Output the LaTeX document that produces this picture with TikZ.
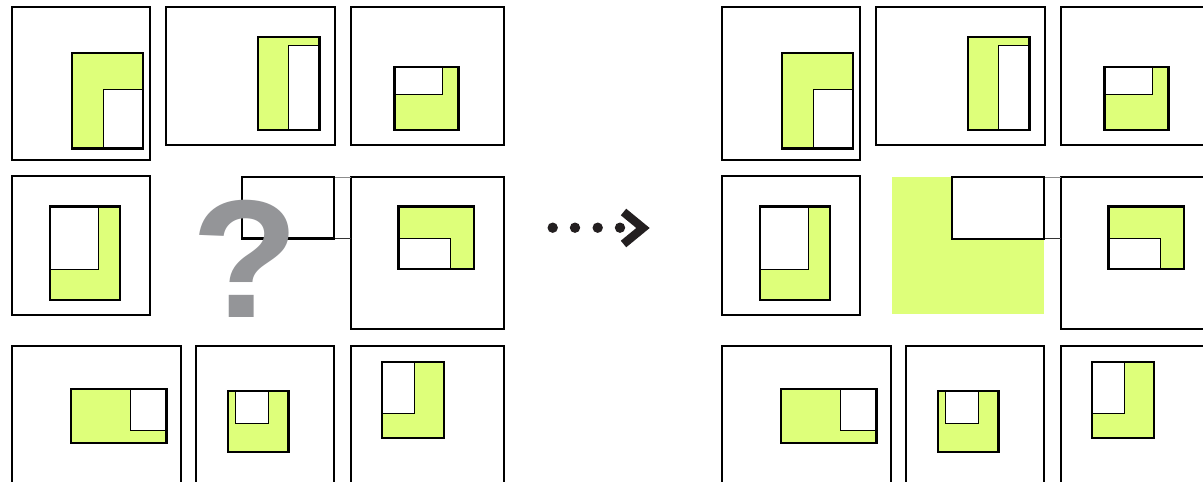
\documentclass[tikz,border=0pt]{standalone}
\usepackage{fontspec}
\newfontfamily\qfont{Liberation Sans}
\definecolor{lgreen}{RGB}{222,255,122}
\definecolor{qgray}{RGB}{148,149,152}
\definecolor{arrowblk}{RGB}{35,31,32}
\tikzset{
  outerbox/.style={draw=black, line width=2pt},
  innerfill/.style={fill=lgreen},
  innerbox/.style={draw=black, line width=2.5pt},
  holebox/.style={draw=black, line width=0.9pt, fill=white},
  thinlink/.style={draw=black!80, line width=0.9pt},
  dotmark/.style={fill=arrowblk},
}
% cell: outer x1,y1,x2,y2 ; inner x1,y1,x2,y2 ; hole x1,y1,x2,y2
\newcommand{\puzcell}[3]{%
  \draw[outerbox] #1;
  \fill[innerfill] #2;
  \draw[holebox] #3;
  \draw[innerbox] #2;
}
\begin{document}
\begin{tikzpicture}[x=1pt,y=-1pt]
\useasboundingbox (0,0) rectangle (1203,482);
\clip (0,0) rectangle (1203,482);
\foreach \dx in {0,710}{
\begin{scope}[xshift=\dx pt]
\puzcell{(12,7) rectangle (150,160)}{(72,53) rectangle (143,148.5)}{(103.5,89.5) rectangle (143,148.5)}
\puzcell{(166,7) rectangle (334.5,145)}{(258,37) rectangle (319.5,130)}{(288.5,45.5) rectangle (319.5,130)}
\puzcell{(351,7) rectangle (504,145)}{(394.5,67) rectangle (458.5,130)}{(394.5,67) rectangle (442.5,94.5)}
\puzcell{(12,176) rectangle (150,314.5)}{(50,206.5) rectangle (120,300)}{(50,206.5) rectangle (98,269)}
\puzcell{(350.5,177) rectangle (504,329)}{(398.5,206.5) rectangle (474,269)}{(398.5,238) rectangle (450,269)}
\puzcell{(12,346) rectangle (180.5,500)}{(71,389) rectangle (166.5,443)}{(130,389) rectangle (166.5,430)}
\puzcell{(196,346) rectangle (334,500)}{(228,391) rectangle (288.5,452)}{(235.5,391) rectangle (268.5,423)}
\puzcell{(351,346) rectangle (504,500)}{(382,362) rectangle (444,438)}{(382,362) rectangle (414,413)}
\draw[thinlink, draw=black!45] (334,177) -- (350.5,177);
\draw[thinlink] (334,238.5) -- (350.5,238.5);
\end{scope}
}
% left middle: empty rectangle with question mark
\draw[innerbox, fill=white] (242,177) rectangle (334,238.5);
\node[font=\qfont\bfseries\fontsize{168}{168}\selectfont, text=qgray, inner sep=0pt, anchor=base, xscale=1.05] (qmark) at (245,317.5) {?};
% right middle: answer
\fill[innerfill] (892,177) rectangle (1044,314);
\draw[innerbox, fill=white] (952,177) rectangle (1044,239);
% arrow
\foreach \i/\xx in {1/552.7,2/575,3/597.7,4/620}{
  \fill[dotmark] (\xx,227.7) circle (5.2pt);
}
\draw[arrowblk, line width=8.5pt, line join=miter, miter limit=10] (623.5,212) -- (643,228) -- (623.5,244);
\end{tikzpicture}
\end{document}
